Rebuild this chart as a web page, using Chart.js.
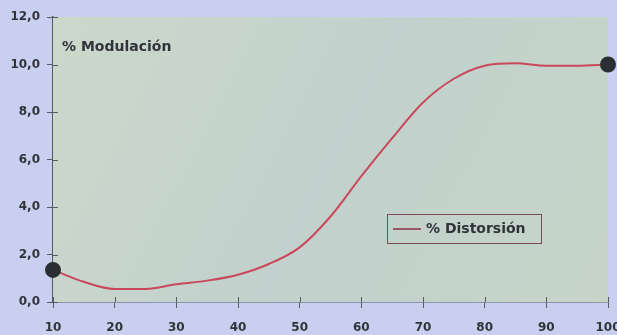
<!DOCTYPE html>
<html>
<head>
<meta charset="utf-8">
<script src="https://cdn.jsdelivr.net/npm/chart.js@4/dist/chart.umd.min.js"></script>
<style>
  html, body { margin: 0; padding: 0; background: #c8cfef; }
  #wrap { position: relative; width: 617px; height: 335px; }
</style>
</head>
<body>
<div id="wrap"><canvas id="grafica" width="617" height="335"></canvas></div>
<script>
// Datos
const modulacion = [10, 15, 20, 25, 30, 35, 40, 45, 50, 55, 60, 65, 70, 75, 80, 85, 90, 95, 100];
const distorsion = [1.35, 0.85, 0.55, 0.55, 0.75, 0.9, 1.15, 1.6, 2.3, 3.6, 5.3, 6.9, 8.4, 9.4, 9.95, 10.05, 9.95, 9.95, 10.0];
const xTicks = [10, 20, 30, 40, 50, 60, 70, 80, 90, 100];
const yTicks = [0, 2, 4, 6, 8, 10, 12];
const serieNombre = '% Distorsión';
const tituloEje = '% Modulación';

const colorLinea = '#c9485c';
const colorTexto = '#30343a';
const colorEje = '#555a60';
const fuente = 'DejaVu Sans';

// fondo del área del gráfico + rótulo + leyenda dentro
const extras = {
    id: 'extras',
    beforeDatasetsDraw(chart) {
        const { ctx, chartArea: a } = chart;
        ctx.save();
        const g = ctx.createLinearGradient(a.left, a.top, a.right, a.bottom);
        g.addColorStop(0, '#cbd8cb');
        g.addColorStop(0.5, '#c2d1cd');
        g.addColorStop(1, '#c6d4c8');
        ctx.fillStyle = g;
        ctx.fillRect(a.left, a.top, a.right - a.left, a.bottom - a.top);
        ctx.restore();
    },
    afterDraw(chart) {
        const { ctx, chartArea: a, scales } = chart;
        ctx.save();
        // marcas hacia dentro (cruzan el eje)
        ctx.strokeStyle = colorEje;
        ctx.lineWidth = 1;
        xTicks.forEach(v => {
            const px = Math.round(scales.x.getPixelForValue(v)) + 0.5;
            ctx.beginPath(); ctx.moveTo(px, a.bottom); ctx.lineTo(px, a.bottom - 5); ctx.stroke();
        });
        yTicks.forEach(v => {
            const py = Math.round(scales.y.getPixelForValue(v)) + 0.5;
            ctx.beginPath(); ctx.moveTo(a.left, py); ctx.lineTo(a.left + 5, py); ctx.stroke();
        });

        ctx.fillStyle = colorTexto;
        ctx.font = 'bold 14px "' + fuente + '"';
        ctx.textBaseline = 'middle';
        ctx.fillText(tituloEje, 62, 47);

        // leyenda
        const lx = 387, ly = 214, lw = 154, lh = 29;
        ctx.strokeStyle = '#7a4a55';
        ctx.lineWidth = 1;
        ctx.strokeRect(lx + 0.5, ly + 0.5, lw, lh);
        ctx.strokeStyle = '#9a5566';
        ctx.lineWidth = 2;
        ctx.beginPath();
        ctx.moveTo(393, ly + 15);
        ctx.lineTo(421, ly + 15);
        ctx.stroke();
        ctx.fillStyle = colorTexto;
        ctx.font = 'bold 14px "' + fuente + '"';
        ctx.fillText(serieNombre, 426, ly + 15);
        ctx.restore();
    }
};

const radios = modulacion.map((v, i) => (i === 0 || i === modulacion.length - 1) ? 7 : 0);

new Chart(document.getElementById('grafica'), {
    type: 'line',
    data: {
        datasets: [{
            label: serieNombre,
            data: modulacion.map((x, i) => ({ x: x, y: distorsion[i] })),
            borderColor: colorLinea,
            borderWidth: 2,
            cubicInterpolationMode: 'monotone',
            pointRadius: radios,
            pointBackgroundColor: '#2a2f33',
            pointBorderColor: '#2a2f33',
            clip: false
        }]
    },
    options: {
        responsive: false,
        animation: false,
        layout: { padding: { top: 17, right: 9, bottom: 0, left: 0 } },
        plugins: { legend: { display: false }, tooltip: { enabled: false } },
        scales: {
            x: {
                type: 'linear',
                min: 10, max: 100,
                afterBuildTicks: s => { s.ticks = xTicks.map(v => ({ value: v })); },
                afterFit: s => { s.paddingLeft = 0; s.paddingRight = 0; s.height = 33; },
                border: { color: colorEje, width: 1.5 },
                grid: { drawOnChartArea: false, tickLength: 6, color: colorEje },
                ticks: { color: colorTexto, font: { family: fuente, size: 12, weight: 'bold' }, padding: 13, maxRotation: 0 }
            },
            y: {
                min: 0, max: 12,
                afterBuildTicks: s => { s.ticks = yTicks.map(v => ({ value: v })); },
                afterFit: s => { s.width = 53; s.paddingTop = 0; s.paddingBottom = 0; },
                border: { color: colorEje, width: 1.5 },
                grid: { drawOnChartArea: false, tickLength: 6, color: colorEje },
                ticks: {
                    color: colorTexto, font: { family: fuente, size: 12, weight: 'bold' }, padding: 7,
                    callback: v => v.toFixed(1).replace('.', ',')
                }
            }
        }
    },
    plugins: [extras]
});
</script>
</body>
</html>
